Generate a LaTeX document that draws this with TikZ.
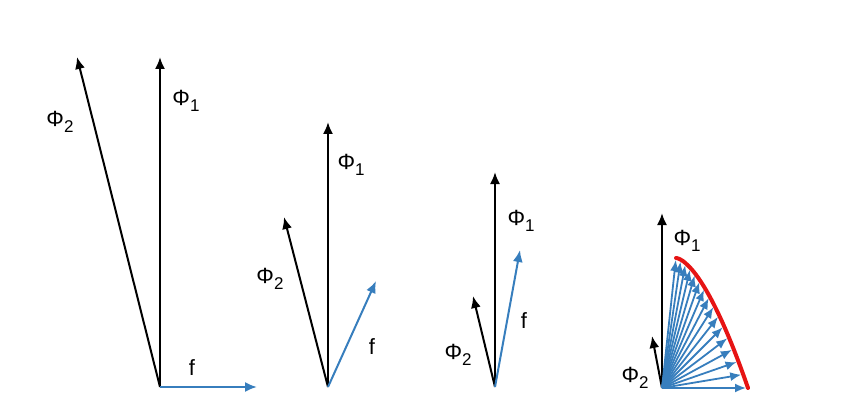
\documentclass[tikz,border=0pt]{standalone}
\usepackage{fontspec}
\setmainfont{Liberation Sans}
\usetikzlibrary{arrows.meta}
\definecolor{fblue}{RGB}{55,126,189}
\definecolor{fred}{RGB}{230,20,20}
\newcommand{\phisub}[1]{Φ\raisebox{-0.55ex}{\fontsize{17}{17}\selectfont #1}}

\begin{document}
\begin{tikzpicture}[x=1pt, y=-1pt,
        blackvec/.style={draw=black, line width=2pt, -{Latex[length=12pt,width=10pt]}},
        bluevec/.style={draw=fblue, line width=2pt, -{Latex[length=12pt,width=10pt]}},
        fanvec/.style={draw=fblue, line width=1.8pt, -{Latex[length=11pt,width=9pt]}, shorten >=2pt},
        vlabel/.style={inner sep=0pt, font=\fontsize{22}{24}\selectfont}]

        \useasboundingbox (0,0) rectangle (865,409);

        % first
        \coordinate (o1) at (160,387);
        \coordinate (p1a) at (160,57);
        \coordinate (p2a) at (77,57);
        \coordinate (fa) at (257,387);
        \draw[blackvec] (o1) -- (p1a);
        \draw[blackvec] (o1) -- (p2a);
        \draw[bluevec] (o1) -- (fa);
        \node[vlabel] (l1a) at (186,101) {\phisub{1}};
        \node[vlabel] (l2a) at (60,122) {\phisub{2}};
        \node[vlabel] (lfa) at (192,368) {f};

        % second
        \coordinate (o2) at (328,387);
        \coordinate (p1b) at (328,122);
        \coordinate (p2b) at (284,217);
        \coordinate (fb) at (376,281);
        \draw[blackvec] (o2) -- (p1b);
        \draw[blackvec] (o2) -- (p2b);
        \draw[bluevec] (o2) -- (fb);
        \node[vlabel] (l1b) at (351,165) {\phisub{1}};
        \node[vlabel] (l2b) at (270,279) {\phisub{2}};
        \node[vlabel] (lfb) at (372,347) {f};

        % third
        \coordinate (o3) at (495,387);
        \coordinate (p1c) at (495,172);
        \coordinate (p2c) at (473,296);
        \coordinate (fc) at (520,250);
        \draw[blackvec] (o3) -- (p1c);
        \draw[blackvec] (o3) -- (p2c);
        \draw[bluevec] (o3) -- (fc);
        \node[vlabel] (l1c) at (521,221) {\phisub{1}};
        \node[vlabel] (l2c) at (458,355) {\phisub{2}};
        \node[vlabel] (lfc) at (524,321) {f};

        % fourth
        \coordinate (o4) at (662,388);
        \coordinate (p1d) at (662,213);
        \coordinate (p2d) at (652,336);
        \draw[blackvec] (o4) -- (p1d);
        \draw[blackvec] (o4) -- (p2d);
        \foreach \k in {0,...,15}
            \draw[fanvec] (o4) -- ({676+72*\k/15},{388-130*(1-(\k/15)^1.6)});
        \draw[fred, line width=4pt, line cap=round] plot[domain=0:1, samples=50, smooth] ({676+72*\x},{388-130*(1-\x^1.6)});
        \node[vlabel] (l1d) at (687,241) {\phisub{1}};
        \node[vlabel] (l2d) at (635,378) {\phisub{2}};

\end{tikzpicture}
\end{document}
